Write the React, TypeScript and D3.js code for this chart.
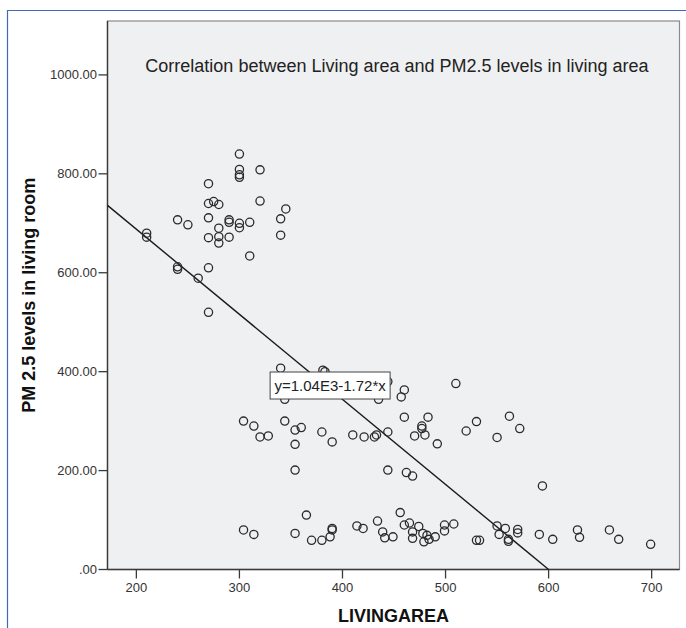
import React from "react";
import * as d3 from "d3";

const livingArea = [
  210, 210, 240, 240, 260, 240, 250, 300, 300, 300, 300, 320, 270, 270, 275, 280, 320, 345, 270, 290,
  290, 300, 300, 310, 340, 340, 280, 270, 280, 280, 290, 310, 270, 270,
  340, 381, 383, 444, 510, 344, 435, 460, 457, 460, 483, 477, 477, 470, 480, 492, 304, 314, 320, 328,
  344, 354, 360, 354, 380, 390, 410, 421, 431, 433, 444, 354, 444, 462, 468, 520, 530, 562, 572, 550, 594,
  365, 456, 304, 314, 354, 370, 380, 388, 390, 390, 414, 420, 434, 439, 441, 449, 460, 465, 468, 468,
  474, 478, 482, 479, 484, 490, 499, 508, 499, 530, 533, 550, 552, 558, 561, 561, 570, 570, 591, 604,
  628, 630, 659, 668, 699,
];
const pm25 = [
  680, 672, 612, 607, 589, 707, 697, 840, 809, 798, 793, 808, 780, 740, 744, 738, 745, 729, 711, 707,
  702, 700, 691, 702, 709, 676, 690, 671, 673, 660, 672, 634, 610, 520,
  407, 403, 400, 380, 376, 344, 344, 363, 349, 308, 308, 290, 285, 270, 272, 254, 300, 290, 268, 270,
  300, 282, 287, 253, 278, 258, 272, 268, 268, 272, 278, 201, 201, 196, 189, 280, 299, 310, 285, 267, 169,
  110, 115, 80, 71, 73, 59, 59, 66, 83, 80, 88, 83, 98, 76, 64, 66, 90, 94, 76, 63,
  87, 73, 69, 56, 61, 66, 90, 92, 78, 59, 59, 88, 71, 83, 61, 57, 81, 74, 71, 61,
  80, 65, 80, 61, 51,
];
const xTicks = [200, 300, 400, 500, 600, 700];
const yTicks = [0, 200, 400, 600, 800, 1000];
const fitIntercept = 1032;
const fitSlope = -1.72;
const fitLabel = "y=1.04E3-1.72*x";
const fitLabelAnchor = [388, 372];
const title = "Correlation between Living area and PM2.5 levels in living area";
const xTitle = "LIVINGAREA";
const yTitle = "PM 2.5 levels in living room";

const W = 686;
const H = 628;
const FONT = "'Liberation Sans', Arial, Helvetica, sans-serif";

export default function App() {
  const left = 107.5, right = 679.5, top = 21, bottom = 569.5;
  const x = d3.scaleLinear().domain([172, 727]).range([left, right]);
  const y = d3.scaleLinear().domain([0, 1109]).range([bottom, top]);
  const fmtY = (v: number) => (v === 0 ? ".00" : v.toFixed(2));

  const x0 = x.domain()[0];
  const xEnd = -fitIntercept / fitSlope;
  const fitLine = d3.line<number>().x((v) => x(v)).y((v) => y(fitIntercept + fitSlope * v));
  const pts = livingArea.map((v, i) => [v, pm25[i]]);
  const lx = x(fitLabelAnchor[0]);
  const ly = y(fitLabelAnchor[1]);

  return (
    <svg width={W} height={H} style={{ position: "absolute", left: 0, top: 0, background: "#fff" }}>
      <line x1={7} y1={10.5} x2={W} y2={10.5} stroke="#4468b8" strokeWidth={1.2} />
      <line x1={7.5} y1={10} x2={7.5} y2={H} stroke="#4468b8" strokeWidth={1.2} />
      <rect x={left} y={top} width={right - left} height={bottom - top} fill="#eff0f1" stroke="#8a8a8a" strokeWidth={1.2} />
      <line x1={left} y1={top} x2={left} y2={bottom} stroke="#3a3a3a" strokeWidth={1.4} />
      <line x1={left} y1={bottom} x2={right} y2={bottom} stroke="#3a3a3a" strokeWidth={1.4} />
      <text x={397} y={72} textAnchor="middle" fontFamily={FONT} fontSize={18} fill="#222">
        {title}
      </text>
      {yTicks.map((t) => (
        <g key={"y" + t}>
          <line x1={left - 9} x2={left} y1={y(t)} y2={y(t)} stroke="#3a3a3a" strokeWidth={1.3} />
          <text x={left - 10.5} y={y(t)} dy="0.35em" textAnchor="end" fontFamily={FONT} fontSize={13} fill="#333">
            {fmtY(t)}
          </text>
        </g>
      ))}
      {xTicks.map((t) => (
        <g key={"x" + t}>
          <line x1={x(t)} x2={x(t)} y1={bottom} y2={bottom + 9} stroke="#3a3a3a" strokeWidth={1.3} />
          <text x={x(t)} y={bottom + 22} textAnchor="middle" fontFamily={FONT} fontSize={13} fill="#333">
            {t}
          </text>
        </g>
      ))}
      <text x={(left + right) / 2} y={622} textAnchor="middle" fontFamily={FONT} fontSize={18} fontWeight="bold" fill="#111">
        {xTitle}
      </text>
      <text
        transform={`translate(34.5, ${(top + bottom) / 2}) rotate(-90)`}
        textAnchor="middle"
        fontFamily={FONT}
        fontSize={18}
        fontWeight="bold"
        fill="#111"
      >
        {yTitle}
      </text>
      <path d={fitLine([x0, xEnd]) || ""} fill="none" stroke="#1a1a1a" strokeWidth={1.4} />
      {pts.map((p, i) => (
        <circle key={i} cx={x(p[0])} cy={y(p[1])} r={4.1} fill="none" stroke="#2b2b2b" strokeWidth={1.3} />
      ))}
      <rect x={lx - 60} y={ly - 13.5} width={120} height={27} fill="#fff" stroke="#444" strokeWidth={1} />
      <text x={lx} y={ly} dy="0.36em" textAnchor="middle" fontFamily={FONT} fontSize={15} fill="#222">
        {fitLabel}
      </text>
    </svg>
  );
}
